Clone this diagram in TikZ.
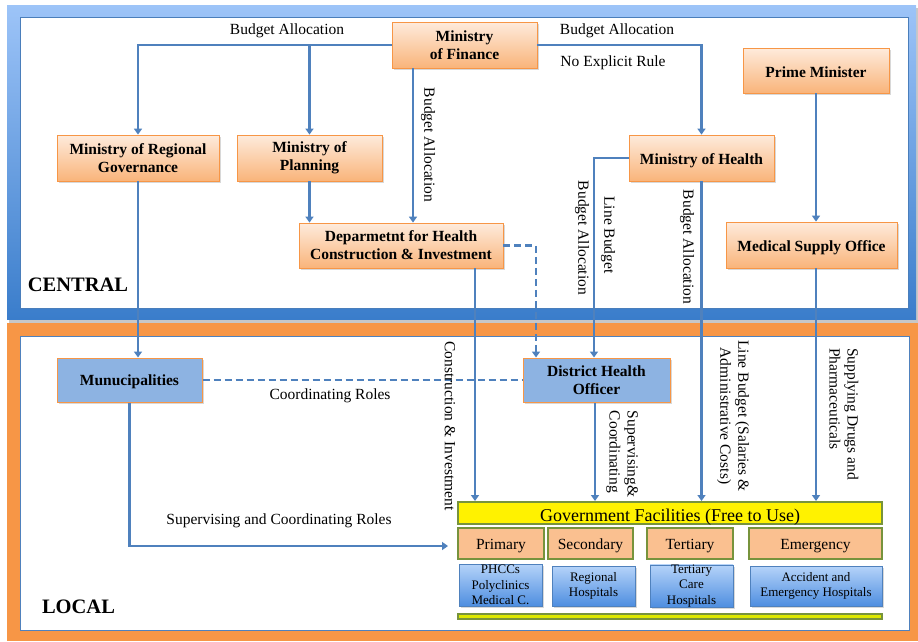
\documentclass[tikz,border=0pt]{standalone}
\usepackage{fontspec}
\setmainfont{Liberation Serif}
\usetikzlibrary{arrows.meta,shadows,calc}
\definecolor{lnblue}{HTML}{4F81BD}
\definecolor{frtop}{HTML}{9DC4F8}
\definecolor{frbot}{HTML}{3A7DCB}
\definecolor{frline}{HTML}{4A7EBB}
\definecolor{orfr}{HTML}{F79646}
\definecolor{ortop}{HTML}{FEEBDC}
\definecolor{orbot}{HTML}{F9B47A}
\definecolor{bfill}{HTML}{8DB3E2}
\definecolor{olive}{HTML}{77933C}
\definecolor{tfill}{HTML}{FAC090}
\definecolor{bltop}{HTML}{B5D3F9}
\definecolor{blbot}{HTML}{4E8EE0}
\definecolor{barfill}{HTML}{DDE800}
\begin{document}
\begin{tikzpicture}[x=1pt,y=-1pt,
  shad/.style={drop shadow={shadow xshift=2pt,shadow yshift=-2pt,opacity=0.3}},
  obox/.style={draw=orfr, line width=0.8pt, top color=ortop, bottom color=orbot, shad,
    font=\bfseries\fontsize{15.5}{18}\selectfont, align=center, inner sep=0pt},
  oneline/.style={text height=13pt, text depth=0pt},
  bbox/.style={draw=orfr, line width=1pt, fill=bfill, shad,
    font=\bfseries\fontsize{15.5}{18}\selectfont, align=center, inner sep=0pt},
  gbox/.style={draw=olive, line width=2pt, fill=yellow, inner sep=0pt,
    font=\fontsize{18}{20}\selectfont, text height=17pt, text depth=0pt},
  tbox/.style={draw=olive, line width=2pt, fill=tfill, inner sep=0pt,
    font=\fontsize{15.5}{18}\selectfont, text height=12.6pt, text depth=0pt},
  hbox/.style={draw=lnblue, line width=0.6pt, top color=bltop, bottom color=blbot, shad,
    inner sep=0pt, align=center, font=\fontsize{13}{15.5}\selectfont},
  arr/.style={draw=lnblue, line width=2.2pt, -{Triangle[length=6pt,width=8pt]}},
  dsh/.style={arr, dash pattern=on 7pt off 4pt},
  lbl/.style={font=\fontsize{15.5}{18}\selectfont, inner sep=0pt},
  vlbl/.style={lbl, rotate=-90},
  big/.style={font=\bfseries\fontsize{20.5}{22}\selectfont, inner sep=0pt}]
\useasboundingbox (0,0) rectangle (918,641);
% frames
\fill[black!22] (9,8) rectangle (918,323);
\shade[top color=frtop, bottom color=frbot] (7,5) rectangle (916,319);
\draw[fill=white, draw=frline, line width=0.8pt] (20,17) rectangle (908,308);
\fill[orfr] (7,323) rectangle (918,641);
\draw[fill=white, draw=lnblue, line width=0.8pt] (20,336) rectangle (909,630);
\node[big] (central) at (78,284.5) {CENTRAL};
\node[big] (local) at (78.5,606.5) {LOCAL};
% central nodes
\node[obox, minimum width=145pt, minimum height=46pt] (fin) at (464.5,45) {Ministry\\of Finance};
\node[obox, minimum width=162pt, minimum height=46pt] (mrg) at (138,158) {Ministry of Regional\\Governance};
\node[obox, minimum width=145pt, minimum height=46pt] (mop) at (309.5,158) {Ministry of\\Planning};
\node[obox, minimum width=204pt, minimum height=45pt] (dept) at (401,245.5) {Deparmetnt for Health\\Construction \& Investment};
\node[obox, oneline, minimum width=146pt, minimum height=45pt] (pm) at (816,70.5) {Prime Minister};
\node[obox, oneline, minimum width=145pt, minimum height=46pt] (moh) at (701.5,158) {Ministry of Health};
\node[obox, oneline, minimum width=171pt, minimum height=46pt] (mso) at (811.5,245) {Medical Supply Office};
% local nodes
\node[bbox, text height=11pt, text depth=0pt, minimum width=145pt, minimum height=44pt] (mun) at (129.5,380) {Munucipalities};
\node[bbox, minimum width=147pt, minimum height=44pt] (dho) at (596.5,380) {District Health\\Officer};
\node[gbox, minimum width=424pt, minimum height=22pt] (gov) at (670,513) {Government Facilities (Free to Use)};
\node[tbox, minimum width=86pt, minimum height=31pt] (prim) at (501,543.5) {Primary};
\node[tbox, minimum width=85pt, minimum height=31pt] (sec) at (590.5,543.5) {Secondary};
\node[tbox, minimum width=86pt, minimum height=31pt] (ter) at (690,543.5) {Tertiary};
\node[tbox, minimum width=133pt, minimum height=31pt] (emer) at (815.5,543.5) {Emergency};
\node[hbox, minimum width=83pt, minimum height=42pt] (phc) at (500.5,585) {PHCCs\\Polyclinics\\Medical C.};
\node[hbox, minimum width=83pt, minimum height=40pt] (reg) at (593.5,586) {Regional\\Hospitals};
\node[hbox, minimum width=83pt, minimum height=40pt] (tcare) at (691.5,586) {Tertiary\\Care\\Hospitals};
\node[hbox, minimum width=132pt, minimum height=40pt] (acc) at (816,586) {Accident and\\Emergency Hospitals};
\node[draw=olive, line width=1.5pt, fill=barfill, inner sep=0pt, minimum width=424pt, minimum height=5pt] (bar) at (670,616.5) {};
\coordinate (supend) at (448,546);
% connectors
\draw[arr] (fin.west) -| (mrg.north);
\draw[arr] (mop.north |- fin.west) -- (mop.north);
\draw[arr] ([xshift=-51.5pt]fin.south) -- ([xshift=-51.5pt]fin.south |- dept.north);
\draw[arr] (mop.south) -- (mop.south |- dept.north);
\draw[arr] (fin.east) -| (moh.north);
\draw[arr] (pm.south) -- (pm.south |- mso.north);
\draw[arr] (moh.west) -| ([xshift=-2.5pt]dho.north);
\draw[arr] (moh.south) -- (moh.south |- gov.north);
\draw[arr] ([xshift=4.5pt]mso.south) -- ([xshift=4.5pt]mso.south |- gov.north);
\draw[arr] ([xshift=74pt]dept.south) -- ([xshift=74pt]dept.south |- gov.north);
\draw[dsh] (dept.east) -| ([xshift=-60.5pt]dho.north);
\draw[arr] (mrg.south) -- (mrg.south |- mun.north);
\draw[dsh, -] (mun.east) -- (dho.west);
\draw[arr] (mun.south) |- (supend);
\draw[arr] ([xshift=-1.5pt]dho.south) -- ([xshift=-1.5pt]dho.south |- gov.north);
% labels
\node[lbl] (l1) at (287,31) {Budget Allocation};
\node[lbl] (l2) at (617,31) {Budget Allocation};
\node[lbl] (l3) at (613,63) {No Explicit Rule};
\node[vlbl] (l4) at (428,145) {Budget Allocation};
\node[vlbl] (l5) at (582,238) {Budget Allocation};
\node[vlbl] (l6) at (608,235) {Line Budget};
\node[vlbl] (l7) at (687,247) {Budget Allocation};
\node[vlbl] (l8) at (450,426) {Construction \& Investment};
\node[vlbl, align=left] (l9) at (622,454) {Supervising\&\\Coordinating};
\node[vlbl, align=center] (l10) at (733,416) {Line Budget (Salaries \&\\Administrative Costs)};
\node[vlbl, align=left] (l11) at (844,414) {Supplying Drugs and\\Pharmaceuticals};
\node[lbl] (l12) at (330,396) {Coordinating Roles};
\node[lbl] (l13) at (279,521) {Supervising and Coordinating Roles};
\end{tikzpicture}
\end{document}
